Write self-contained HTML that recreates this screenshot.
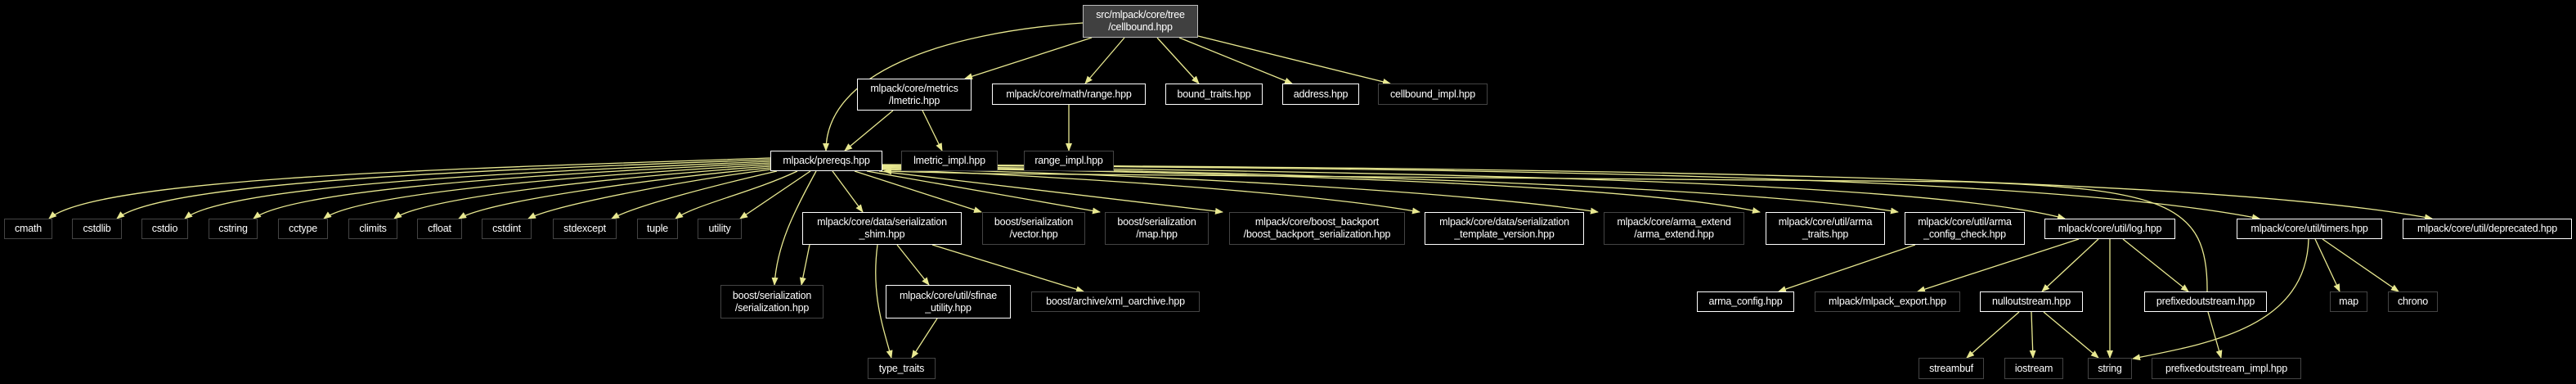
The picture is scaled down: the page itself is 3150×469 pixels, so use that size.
<!DOCTYPE html>
<html><head><meta charset="utf-8"><style>
html,body{margin:0;padding:0;background:#000;width:3150px;height:469px;overflow:hidden}
.b{position:absolute;box-sizing:border-box;border:1px solid #fff;background:#000;color:#fff;font-family:"Liberation Sans",sans-serif;font-size:12.5px;line-height:15px;display:flex;align-items:center;justify-content:center;text-align:center;white-space:nowrap;letter-spacing:-0.2px}
.d{border-color:#444}
.r{background:#404040;border-color:#bbb}
svg{position:absolute;left:0;top:0}
</style></head><body>
<svg width="3150" height="469" viewBox="0 0 3150 469">
<defs><marker id="a" markerWidth="10" markerHeight="8" refX="9" refY="4" orient="auto" markerUnits="userSpaceOnUse"><path d="M0,0 L10,4 L0,8 z" fill="#e8e890"/></marker></defs>
<g fill="none" stroke="#e8e890" stroke-width="1.3" marker-end="url(#a)">
<path d="M1324,28 C1150,40 1010,90 1010,184"/>
<path d="M1335,46 L1180,96"/>
<path d="M1375,46 L1327,102"/>
<path d="M1415,46 L1466,102"/>
<path d="M1442,46 L1580,102"/>
<path d="M1465,44 L1700,102"/>
<path d="M1092,135 L1033,184"/>
<path d="M1128,135 L1152,184"/>
<path d="M1307,128 L1307,184"/>
<path d="M942,193 C600,205 120,215 60,267"/>
<path d="M942,195 C620,207 200,220 143,267"/>
<path d="M942,197 C650,210 280,225 226,267"/>
<path d="M942,199 C680,212 360,230 310,267"/>
<path d="M942,201 C720,214 440,235 396,267"/>
<path d="M942,203 C760,216 520,240 482,267"/>
<path d="M942,205 C800,218 600,245 561,267"/>
<path d="M942,207 C840,220 680,250 646,267"/>
<path d="M950,209 C880,225 780,250 748,267"/>
<path d="M975,209 C920,235 850,250 826,267"/>
<path d="M991,209 L905,267"/>
<path d="M998,209 C970,260 950,300 947,348"/>
<path d="M1018,209 L1055,259"/>
<path d="M1045,209 L1200,259"/>
<path d="M1060,209 L1345,259"/>
<path d="M1075,209 L1495,259"/>
<path d="M1079,207 C1300,215 1600,235 1736,259"/>
<path d="M1079,206 C1400,212 1800,235 1954,259"/>
<path d="M1079,205 C1500,210 2000,225 2152,259"/>
<path d="M1079,204 C1600,210 2150,230 2321,259"/>
<path d="M1079,203 C1700,210 2350,220 2525,267"/>
<path d="M1079,202 C1800,205 2500,215 2763,267"/>
<path d="M1079,201 C1900,205 2700,215 2974,267"/>
<path d="M2699,356 C2700,250 2650,230 2400,222 L1200,212 L1081,209"/>
<path d="M990,299 L980,348"/>
<path d="M1073,299 C1065,360 1080,400 1090,437"/>
<path d="M1097,299 L1136,348"/>
<path d="M1140,299 L1325,356"/>
<path d="M1146,389 L1115,437"/>
<path d="M2342,299 L2175,356"/>
<path d="M2542,292 L2345,356"/>
<path d="M2566,292 L2497,356"/>
<path d="M2580,292 L2580,437"/>
<path d="M2596,292 L2676,356"/>
<path d="M2700,381 L2716,437"/>
<path d="M2469,381 L2405,437"/>
<path d="M2484,381 L2486,437"/>
<path d="M2499,381 L2566,437"/>
<path d="M2823,292 C2820,400 2700,420 2608,438"/>
<path d="M2831,292 L2861,356"/>
<path d="M2840,292 L2933,356"/>
</g></svg>
<div class="b r" style="left:1324px;top:6px;width:141px;height:40px">src/mlpack/core/tree<br>/cellbound.hpp</div>
<div class="b" style="left:1048px;top:96px;width:140px;height:39px">mlpack/core/metrics<br>/lmetric.hpp</div>
<div class="b" style="left:1213px;top:102px;width:188px;height:26px">mlpack/core/math/range.hpp</div>
<div class="b" style="left:1425px;top:102px;width:119px;height:26px">bound_traits.hpp</div>
<div class="b" style="left:1568px;top:102px;width:94px;height:26px">address.hpp</div>
<div class="b d" style="left:1685px;top:102px;width:134px;height:26px">cellbound_impl.hpp</div>
<div class="b" style="left:942px;top:184px;width:137px;height:25px">mlpack/prereqs.hpp</div>
<div class="b d" style="left:1102px;top:184px;width:118px;height:25px">lmetric_impl.hpp</div>
<div class="b d" style="left:1252px;top:184px;width:110px;height:25px">range_impl.hpp</div>
<div class="b d" style="left:5px;top:267px;width:59px;height:25px">cmath</div>
<div class="b d" style="left:88px;top:267px;width:61px;height:25px">cstdlib</div>
<div class="b d" style="left:173px;top:267px;width:57px;height:25px">cstdio</div>
<div class="b d" style="left:255px;top:267px;width:60px;height:25px">cstring</div>
<div class="b d" style="left:340px;top:267px;width:61px;height:25px">cctype</div>
<div class="b d" style="left:426px;top:267px;width:60px;height:25px">climits</div>
<div class="b d" style="left:510px;top:267px;width:55px;height:25px">cfloat</div>
<div class="b d" style="left:589px;top:267px;width:61px;height:25px">cstdint</div>
<div class="b d" style="left:676px;top:267px;width:78px;height:25px">stdexcept</div>
<div class="b d" style="left:779px;top:267px;width:50px;height:25px">tuple</div>
<div class="b d" style="left:853px;top:267px;width:54px;height:25px">utility</div>
<div class="b" style="left:981px;top:259px;width:195px;height:40px">mlpack/core/data/serialization<br>_shim.hpp</div>
<div class="b d" style="left:1201px;top:259px;width:126px;height:40px">boost/serialization<br>/vector.hpp</div>
<div class="b d" style="left:1351px;top:259px;width:127px;height:40px">boost/serialization<br>/map.hpp</div>
<div class="b d" style="left:1503px;top:259px;width:215px;height:40px">mlpack/core/boost_backport<br>/boost_backport_serialization.hpp</div>
<div class="b" style="left:1742px;top:259px;width:195px;height:40px">mlpack/core/data/serialization<br>_template_version.hpp</div>
<div class="b d" style="left:1961px;top:259px;width:172px;height:40px">mlpack/core/arma_extend<br>/arma_extend.hpp</div>
<div class="b" style="left:2159px;top:259px;width:146px;height:40px">mlpack/core/util/arma<br>_traits.hpp</div>
<div class="b" style="left:2329px;top:259px;width:147px;height:40px">mlpack/core/util/arma<br>_config_check.hpp</div>
<div class="b" style="left:2500px;top:267px;width:160px;height:25px">mlpack/core/util/log.hpp</div>
<div class="b" style="left:2735px;top:267px;width:178px;height:25px">mlpack/core/util/timers.hpp</div>
<div class="b" style="left:2938px;top:267px;width:207px;height:25px">mlpack/core/util/deprecated.hpp</div>
<div class="b d" style="left:881px;top:348px;width:126px;height:41px">boost/serialization<br>/serialization.hpp</div>
<div class="b" style="left:1083px;top:348px;width:153px;height:41px">mlpack/core/util/sfinae<br>_utility.hpp</div>
<div class="b d" style="left:1261px;top:356px;width:206px;height:25px">boost/archive/xml_oarchive.hpp</div>
<div class="b" style="left:2075px;top:356px;width:119px;height:25px">arma_config.hpp</div>
<div class="b d" style="left:2219px;top:356px;width:178px;height:25px">mlpack/mlpack_export.hpp</div>
<div class="b" style="left:2421px;top:356px;width:126px;height:25px">nulloutstream.hpp</div>
<div class="b" style="left:2622px;top:356px;width:150px;height:25px">prefixedoutstream.hpp</div>
<div class="b d" style="left:2849px;top:356px;width:46px;height:25px">map</div>
<div class="b d" style="left:2920px;top:356px;width:61px;height:25px">chrono</div>
<div class="b d" style="left:1061px;top:437px;width:83px;height:26px">type_traits</div>
<div class="b d" style="left:2346px;top:437px;width:80px;height:26px">streambuf</div>
<div class="b d" style="left:2451px;top:437px;width:72px;height:26px">iostream</div>
<div class="b d" style="left:2553px;top:437px;width:54px;height:26px">string</div>
<div class="b d" style="left:2631px;top:437px;width:183px;height:26px">prefixedoutstream_impl.hpp</div>
</body></html>
